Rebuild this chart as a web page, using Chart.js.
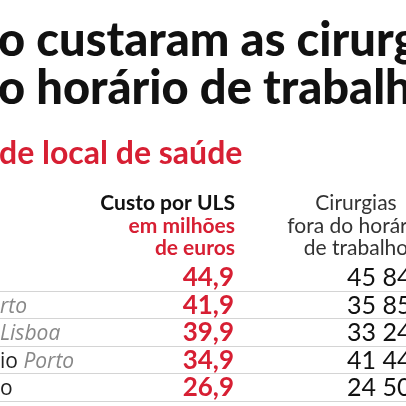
<!DOCTYPE html>
<html>
<head>
<meta charset="utf-8">
<script src="https://cdn.jsdelivr.net/npm/chart.js@4"></script>
<style>
  html, body { margin: 0; padding: 0; background: #fff; }
  #wrap { width: 406px; height: 406px; }
</style>
</head>
<body>
<div id="wrap"><canvas id="chart"></canvas></div>
<script>
// Table rows (left part of names is cut off in the picture)
const rowLabels = [
    [['', '#222', false]],
    [['rto', '#888', true]],
    [['Lisboa', '#888', true]],
    [['io ', '#222', false], ['Porto', '#888', true]],
    [['o', '#222', false]]
];
const custoMilhoes = [44.9, 41.9, 39.9, 34.9, 26.9];
const cirurgias = ['45 84', '35 85', '33 24', '41 44', '24 50'];

const RED = '#d71f33';
const costCol = 234;   // right edge of cost column
const countCol = 347;  // left edge of surgery column

const tablePlugin = {
    id: 'table',
    afterDraw(chart) {
        const c = chart.ctx;
        const ys = chart.scales.y;
        c.save();
        c.textBaseline = 'alphabetic';

        // title
        c.fillStyle = '#111';
        c.font = '900 47px Lato';
        c.textAlign = 'left';
        c.fillText('o custaram as cirurgias', -2, 56);
        c.fillText('o horário de trabalho', -2, 104);
        c.fillStyle = RED;
        c.font = 'bold 32px Lato';
        c.fillText('de local de saúde', -1, 164);

        // column headers
        c.textAlign = 'right';
        c.fillStyle = '#111';
        c.font = 'bold 21px Lato';
        c.fillText('Custo por ULS', costCol + 1, 210);
        c.fillStyle = RED;
        c.fillText('em milhões', costCol + 1, 233);
        c.fillText('de euros', costCol + 1, 255);
        c.textAlign = 'center';
        c.fillStyle = '#333';
        c.font = '21px Lato';
        c.fillText('Cirurgias', 356, 210);
        c.fillText('fora do horário', 356, 233);
        c.fillText('de trabalho', 356, 255);

        // separators between rows
        c.strokeStyle = '#d4d4d4';
        c.lineWidth = 1;
        for (let i = 0; i < custoMilhoes.length; i++) {
            const y = Math.round(ys.getPixelForValue(i + 0.5)) + 0.5;
            c.beginPath(); c.moveTo(0, y); c.lineTo(406, y); c.stroke();
        }

        // row labels
        c.textAlign = 'left';
        rowLabels.forEach((parts, i) => {
            let x = 0;
            const y = ys.getPixelForValue(i) + 8;
            parts.forEach(([t, col, it]) => {
                c.font = (it ? 'italic ' : '') + '21px "Open Sans"';
                c.fillStyle = col;
                c.fillText(t, x, y);
                x += c.measureText(t).width;
            });
        });

        // values from the datasets' own points
        chart.getDatasetMeta(0).data.forEach((pt, i) => {
            c.textAlign = 'right';
            c.fillStyle = RED;
            c.font = 'bold 26px Lato';
            c.fillText(custoMilhoes[i].toFixed(1).replace('.', ','), pt.x, pt.y + 9);
        });
        chart.getDatasetMeta(1).data.forEach((pt, i) => {
            c.textAlign = 'left';
            c.fillStyle = '#111';
            c.font = '25px Lato';
            c.fillText(cirurgias[i], pt.x, pt.y + 9);
        });
        c.restore();
    }
};

new Chart(document.getElementById('chart'), {
    type: 'scatter',
    data: {
        datasets: [
            { data: custoMilhoes.map((v, i) => ({ x: costCol, y: i })), pointRadius: 0 },
            { data: cirurgias.map((v, i) => ({ x: countCol, y: i })), pointRadius: 0 }
        ]
    },
    options: {
        responsive: true,
        maintainAspectRatio: false,
        animation: false,
        layout: { padding: 0 },
        plugins: { legend: { display: false }, tooltip: { enabled: false } },
        scales: {
            x: { type: 'linear', min: 0, max: 406, display: false },
            y: { type: 'linear', min: -10.07, max: 4.69, reverse: true, display: false }
        }
    },
    plugins: [tablePlugin]
});
</script>
</body>
</html>
